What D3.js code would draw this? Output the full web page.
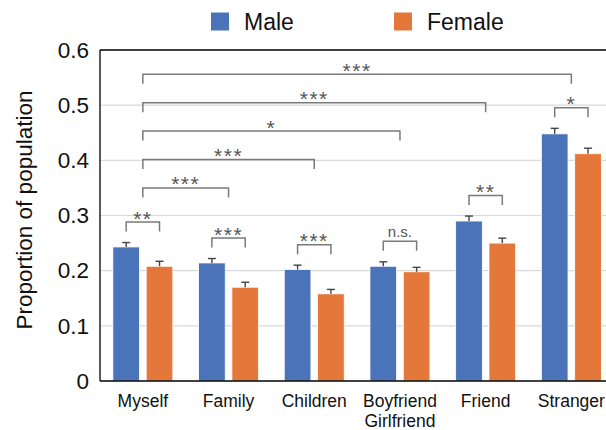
<!DOCTYPE html>
<html>
<head>
<meta charset="utf-8">
<script src="https://cdn.jsdelivr.net/npm/d3@7"></script>
<style>
  html, body { margin: 0; padding: 0; background: #fff; }
  svg { display: block; font-family: "Liberation Sans", Arial, sans-serif; }
</style>
</head>
<body>
<svg id="chart" width="606" height="430"></svg>
<script>
// Groups and series
const categories = ["Myself", "Family", "Children", "Boyfriend\nGirlfriend", "Friend", "Stranger"];
const seriesNames = ["Male", "Female"];
const maleValues   = [0.243, 0.214, 0.202, 0.208, 0.290, 0.448];
const femaleValues = [0.208, 0.170, 0.158, 0.198, 0.250, 0.412];
const maleErrors   = [0.008, 0.008, 0.008, 0.008, 0.009, 0.010];
const femaleErrors = [0.009, 0.009, 0.008, 0.008, 0.009, 0.010];
// Male vs female significance within each group
const withinSig = ["**", "***", "***", "n.s.", "**", "*"];
// Myself vs each other group
const crossTargets = ["Family", "Children", "Boyfriend\nGirlfriend", "Friend", "Stranger"];
const crossSig = ["***", "***", "*", "***", "***"];
const yTicks = [0, 0.1, 0.2, 0.3, 0.4, 0.5, 0.6];

const colors = { Male: "#4a73b9", Female: "#e3783a" };

const svg = d3.select("#chart");
const plotLeft = 100, plotRight = 614.2, plotTop = 50, plotBottom = 381;

const x = d3.scaleBand().domain(categories).range([plotLeft, plotRight])
  .paddingInner(0.3).paddingOuter(0.15);
const xs = d3.scaleBand().domain(seriesNames).range([0, x.bandwidth()]).paddingInner(0.2);
const y = d3.scaleLinear().domain([0, 0.6]).range([plotBottom, plotTop]);

// gridlines
svg.append("g")
  .selectAll("line").data(yTicks.filter(t => t > 0 && t < 0.6)).join("line")
  .attr("x1", plotLeft).attr("x2", plotRight)
  .attr("y1", d => y(d)).attr("y2", d => y(d))
  .attr("stroke", "#d9d9d9").attr("stroke-width", 1.2);

// rows per group
const rows = categories.map((c, i) => ({
  cat: c,
  bars: [
    { s: "Male", v: maleValues[i], e: maleErrors[i] },
    { s: "Female", v: femaleValues[i], e: femaleErrors[i] }
  ]
}));

const groups = svg.append("g").selectAll("g").data(rows).join("g")
  .attr("transform", d => `translate(${x(d.cat)},0)`);

groups.selectAll("rect").data(d => d.bars).join("rect")
  .attr("x", d => xs(d.s))
  .attr("width", xs.bandwidth())
  .attr("y", d => y(d.v))
  .attr("height", d => y(0) - y(d.v))
  .attr("fill", d => colors[d.s])
  .attr("stroke", "#fff").attr("stroke-width", 0.8);

// error bars (upper only)
const eb = groups.selectAll("g.err").data(d => d.bars).join("g").attr("class", "err");
eb.append("line")
  .attr("x1", d => xs(d.s) + xs.bandwidth() / 2)
  .attr("x2", d => xs(d.s) + xs.bandwidth() / 2)
  .attr("y1", d => y(d.v)).attr("y2", d => y(d.v + d.e))
  .attr("stroke", "#444").attr("stroke-width", 1.4);
eb.append("line")
  .attr("x1", d => xs(d.s) + xs.bandwidth() / 2 - 4)
  .attr("x2", d => xs(d.s) + xs.bandwidth() / 2 + 4)
  .attr("y1", d => y(d.v + d.e)).attr("y2", d => y(d.v + d.e))
  .attr("stroke", "#444").attr("stroke-width", 1.4);

// axes frame
const axisG = svg.append("g");
axisG.append("line").attr("x1", plotLeft).attr("x2", plotLeft).attr("y1", plotTop).attr("y2", plotBottom)
  .attr("stroke", "#000").attr("stroke-width", 1.3);
axisG.append("line").attr("x1", plotLeft).attr("x2", plotRight).attr("y1", plotBottom).attr("y2", plotBottom)
  .attr("stroke", "#000").attr("stroke-width", 1.3);
axisG.append("line").attr("x1", plotLeft).attr("x2", plotRight).attr("y1", plotTop).attr("y2", plotTop)
  .attr("stroke", "#000").attr("stroke-width", 1.3);

// y tick labels
const yAxis = d3.axisLeft(y).tickValues(yTicks).tickSize(0).tickPadding(11)
  .tickFormat(d => d === 0 ? "0" : d3.format(".1f")(d));
const ya = svg.append("g").attr("transform", `translate(${plotLeft},0)`).call(yAxis);
ya.select(".domain").remove();
ya.selectAll("text").attr("font-size", 22.5).attr("fill", "#111")
  .attr("font-family", "'Liberation Sans', Arial, sans-serif");

// x category labels
const xAxis = d3.axisBottom(x).tickSize(0).tickFormat("");
const xa = svg.append("g").attr("transform", `translate(0,${plotBottom})`).call(xAxis);
xa.select(".domain").remove();
xa.selectAll(".tick").each(function(d) {
  const t = d3.select(this).append("text")
    .attr("text-anchor", "middle").attr("font-size", 17.5).attr("fill", "#111")
    .attr("font-family", "'Liberation Sans', Arial, sans-serif");
  d.split("\n").forEach((line, k) => {
    t.append("tspan").attr("x", 0).attr("y", 26 + k * 20).text(line);
  });
});

// y axis title
svg.append("text")
  .attr("transform", `translate(32,210) rotate(-90)`)
  .attr("text-anchor", "middle").attr("font-size", 22.5).attr("fill", "#111")
  .text("Proportion of population");

// significance brackets
const bracketColor = "#7a7a7a";
const starColor = "#555";
const legLen = 9.5;
const bg = svg.append("g");

function bracket(x1, x2, yTop, label) {
  bg.append("path")
    .attr("d", `M${x1},${yTop + legLen}V${yTop}H${x2}V${yTop + legLen}`)
    .attr("fill", "none").attr("stroke", bracketColor).attr("stroke-width", 1.5);
  const isStars = label.indexOf("*") >= 0;
  bg.append("text")
    .attr("x", (x1 + x2) / 2).attr("y", isStars ? yTop + 3.5 : yTop - 4)
    .attr("text-anchor", "middle")
    .attr("font-size", isStars ? 21 : 15)
    .attr("letter-spacing", isStars ? 1.5 : 0)
    .attr("fill", starColor)
    .text(label);
}

rows.forEach((r, i) => {
  const cx1 = x(r.cat) + xs("Male") + xs.bandwidth() / 2;
  const cx2 = x(r.cat) + xs("Female") + xs.bandwidth() / 2;
  const peak = d3.max(r.bars, b => b.v + b.e);
  bracket(cx1, cx2, y(peak) - 20.5, withinSig[i]);
});

const myCenter = x(categories[0]) + x.bandwidth() / 2;
crossTargets.forEach((c, i) => {
  const level = 0.350 + i * 0.0515;
  bracket(myCenter, x(c) + x.bandwidth() / 2, y(level), crossSig[i]);
});

// legend
const lg = svg.append("g");
const legendX = [211, 394];
seriesNames.forEach((s, i) => {
  lg.append("rect").attr("x", legendX[i]).attr("y", 12.5).attr("width", 18).attr("height", 18)
    .attr("fill", colors[s]);
  lg.append("text").attr("x", legendX[i] + 33).attr("y", 30).attr("font-size", 23)
    .attr("fill", "#111").text(s);
});
</script>
</body>
</html>
